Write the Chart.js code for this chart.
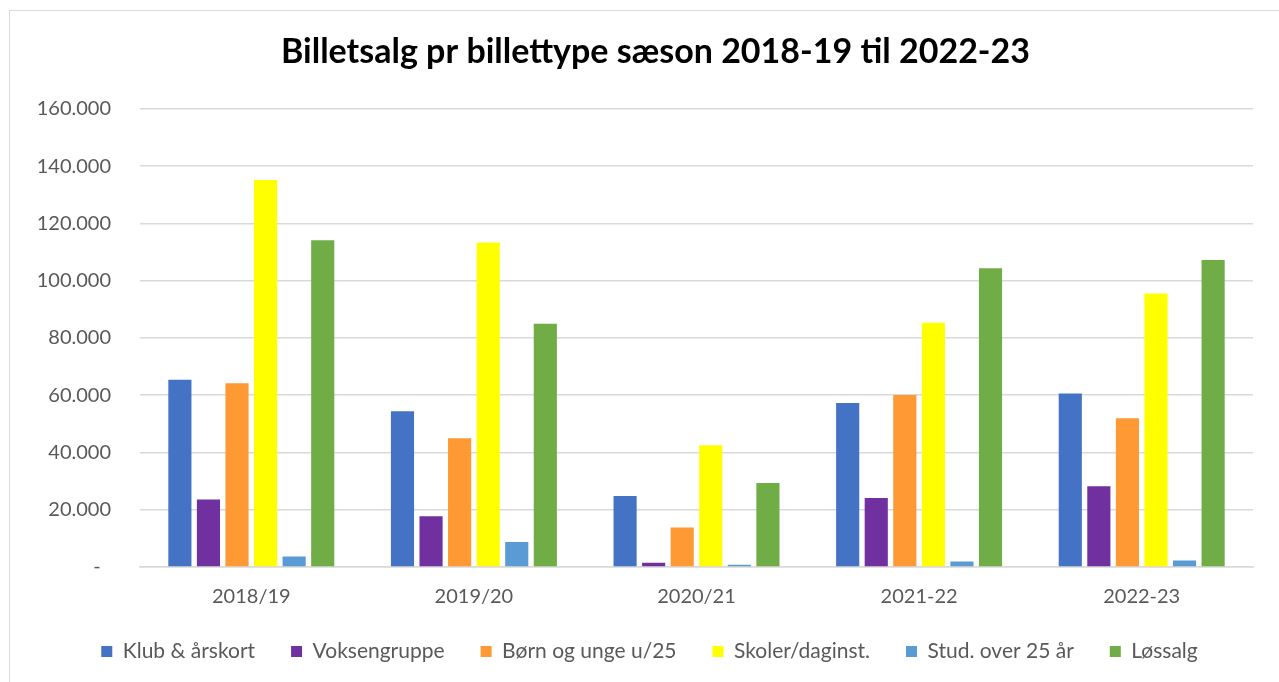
<!DOCTYPE html>
<html>
<head>
<meta charset="utf-8">
<script src="https://cdn.jsdelivr.net/npm/chart.js@4/dist/chart.umd.min.js"></script>
<style>
  html, body { margin: 0; padding: 0; background: #fff; overflow: hidden; }
  #frame { position: absolute; left: 9px; top: 10px; width: 1300px; height: 700px; border: 1px solid #d9d9d9; }
  #wrap { position: absolute; left: 0; top: 0; width: 1279px; height: 682px; }
</style>
</head>
<body>
<div id="frame"></div>
<div id="wrap"><canvas id="myChart" width="1279" height="682"></canvas></div>
<script>
const seasons = ['2018/19', '2019/20', '2020/21', '2021-22', '2022-23'];
const ticketTypes = ['Klub & årskort', 'Voksengruppe', 'Børn og unge u/25', 'Skoler/daginst.', 'Stud. over 25 år', 'Løssalg'];
const klub = [65400, 54400, 24800, 57300, 60600];
const voksen = [23600, 17700, 1500, 24100, 28200];
const boern = [64200, 45000, 13800, 60100, 51900];
const skoler = [135100, 113300, 42500, 85300, 95500];
const stud = [3700, 8700, 800, 1900, 2300];
const loessalg = [114100, 84900, 29300, 104300, 107200];
const colors = ['#4472c4', '#7030a0', '#ff9933', '#ffff00', '#5b9bd5', '#70ad47'];

const series = [klub, voksen, boern, skoler, stud, loessalg];

// legend keeps wide horizontal gaps but takes less vertical room,
// title and legend are centred on the frame rather than the canvas
const LEGEND_TRIM = 14;
const boxTweaks = {
    id: 'boxTweaks',
    afterInit(chart) {
        const legend = chart.legend;
        const fit = legend.fit;
        const draw = legend.draw;
        legend.fit = function () { fit.call(this); this.height -= LEGEND_TRIM; };
        legend.draw = function () {
            this.top -= LEGEND_TRIM;
            this.left += 46;
            draw.call(this);
            this.left -= 46;
            this.top += LEGEND_TRIM;
        };
        const title = chart.titleBlock;
        const drawTitle = title.draw;
        title.draw = function () {
            this.left += 58;
            drawTitle.call(this);
            this.left -= 58;
        };
    }
};

const ctx = document.getElementById('myChart').getContext('2d');

const myChart = new Chart(ctx, {
    type: 'bar',
    data: {
        labels: seasons,
        datasets: series.map((data, i) => ({
            label: ticketTypes[i],
            data: data,
            backgroundColor: colors[i],
            borderWidth: 0,
            categoryPercentage: 0.77,
            barPercentage: 0.81
        }))
    },
    plugins: [boxTweaks],
    options: {
        responsive: false,
        maintainAspectRatio: false,
        animation: false,
        layout: {
            padding: {left: 0, right: 26, top: 32, bottom: 10}
        },
        scales: {
            x: {
                grid: {display: false},
                border: {color: '#d9d9d9', width: 1.5},
                ticks: {
                    color: '#595959',
                    font: {family: 'Lato', size: 20},
                    padding: 10
                }
            },
            y: {
                min: 0,
                max: 160000,
                afterFit: (scale) => { scale.width = 140; },
                border: {display: false},
                grid: {color: '#d9d9d9', lineWidth: 1.5, drawTicks: false},
                ticks: {
                    stepSize: 20000,
                    color: '#595959',
                    padding: 29,
                    font: {family: 'Lato', size: 20},
                    callback: (v) => v === 0 ? '-  ' : v.toLocaleString('da-DK')
                }
            }
        },
        plugins: {
            title: {
                display: true,
                text: 'Billetsalg pr billettype sæson 2018-19 til 2022-23',
                color: '#000',
                font: {family: 'Lato', size: 34, weight: 'bold'},
                padding: {top: 0, bottom: 36}
            },
            legend: {
                position: 'bottom',
                labels: {
                    boxWidth: 11,
                    boxHeight: 11,
                    padding: 36,
                    color: '#595959',
                    font: {family: 'Lato', size: 21}
                }
            },
            tooltip: {enabled: false}
        }
    }
});
</script>
</body>
</html>
